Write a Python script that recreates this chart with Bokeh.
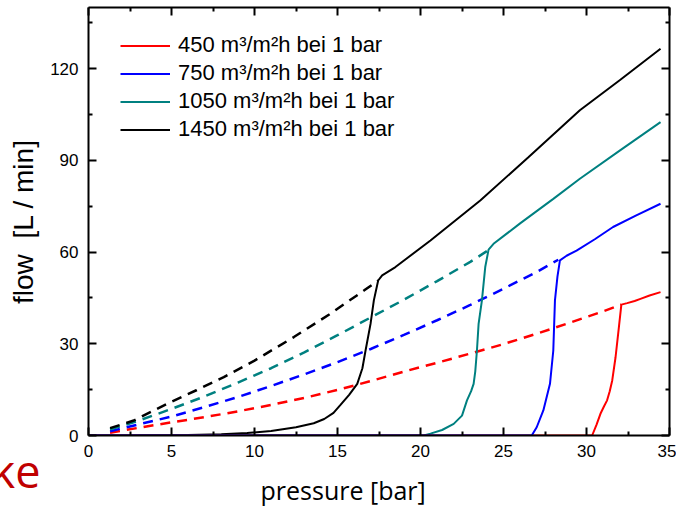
from bokeh.plotting import figure
from bokeh.models import (Range1d, LinearAxis, FixedTicker, Legend, LegendItem, Title,
                          CustomLabelingPolicy)
from bokeh.embed import file_html
from bokeh.resources import INLINE

# ---------------- data ----------------
x_ticks = [0, 5, 10, 15, 20, 25, 30, 35]
x_minor = [2.5, 7.5, 12.5, 17.5, 22.5, 27.5, 32.5]
y_ticks = [0, 30, 60, 90, 120]
y_minor = [15, 45, 75, 105, 135]

series_names = ["450 m³/m²h bei 1 bar", "750 m³/m²h bei 1 bar",
                "1050 m³/m²h bei 1 bar", "1450 m³/m²h bei 1 bar"]

# 450 (red)
red_dash_p = [1.3, 3, 5, 7, 9, 11, 13, 15, 17, 19, 21, 23, 25, 27, 29, 31, 32.1]
red_dash_q = [0.9, 2.5, 4.3, 6.0, 7.9, 10.0, 12.3, 14.9, 17.8, 20.9, 23.8, 26.8, 29.9, 33.3, 36.9, 40.6, 42.8]
red_p = [0, 30.34, 30.6, 30.84, 31.05, 31.24, 31.4, 31.55, 31.75, 31.95, 32.1, 32.45, 32.9, 33.25, 33.8, 34.46]
red_q = [0, 0, 3.5, 7.1, 9.5, 11.5, 14.5, 18.0, 25.6, 35.4, 42.8, 43.3, 44.0, 44.7, 45.8, 46.9]

# 750 (blue)
blue_dash_p = [1.3, 3, 5, 7, 9, 11, 13, 15, 17, 19, 21, 23, 25, 27, 28.3]
blue_dash_q = [1.4, 3.6, 6.2, 9.3, 12.6, 16.2, 20.0, 24.0, 28.3, 32.9, 37.7, 42.7, 48.0, 53.5, 57.5]
blue_p = [0, 26.7, 27.0, 27.4, 27.8, 28.0, 28.1, 28.25, 28.4, 28.8, 29.4, 30.5, 31.6, 33.0, 34.46]
blue_q = [0, 0, 2.7, 8.2, 16.9, 27.8, 44.2, 52.0, 57.3, 58.8, 60.5, 64.2, 68.2, 72.0, 75.8]

# 1050 (teal)
teal_dash_p = [1.3, 3, 5, 7, 9, 11, 13, 15, 17, 19, 21, 23, 24.2]
teal_dash_q = [2.0, 4.8, 8.7, 12.8, 17.3, 22.0, 27.2, 32.8, 38.6, 44.4, 50.5, 56.8, 61.0]
teal_p = [0, 20.2, 20.6, 21.3, 22.0, 22.5, 22.8, 23.05, 23.2, 23.3, 23.4, 23.5, 23.7, 23.9, 24.1, 24.4,
          26, 28, 29.6, 32, 34.46]
teal_q = [0, 0, 0.6, 1.8, 3.8, 6.5, 11.5, 14.5, 16.9, 21.0, 27.8, 36.5, 44.2, 55.1, 60.8, 62.7,
          69.4, 77.4, 84.0, 93.2, 102.5]

# 1450 (black)
black_dash_p = [1.3, 2.73, 4.74, 6.5, 8.15, 10, 12.37, 14.5, 16.59, 17.45]
black_dash_q = [2.4, 4.9, 10.4, 14.8, 19.1, 24.5, 32.2, 39.6, 47.4, 50.7]
black_p = [0, 3, 6, 8, 9.56, 11, 12.5, 13.57, 14.2, 14.76, 15.18, 15.7, 16.19, 16.5, 16.69, 16.99,
           17.19, 17.45, 17.69, 18.49, 20.6, 23.6, 26.5, 29.6, 32, 34.46]
black_q = [0, 0.05, 0.2, 0.4, 0.8, 1.5, 2.7, 4.0, 5.4, 7.4, 10.0, 13.3, 16.9, 22.0, 27.8, 36.5,
           44.2, 50.7, 52.4, 55.1, 63.8, 76.9, 91.0, 106.4, 116.2, 126.5]

colors = ["#ff0000", "#0000ff", "#008080", "#000000"]

# ---------------- figure ----------------
p = figure(width=676, height=507, output_backend="svg", toolbar_location=None,
           x_range=Range1d(0, 35), y_range=Range1d(0, 140),
           min_border_left=88, min_border_right=7, min_border_top=7, min_border_bottom=72,
           x_axis_location=None, y_axis_location=None)
p.grid.visible = False
p.outline_line_color = None
p.background_fill_color = "white"
p.border_fill_color = "white"

FONT = "Liberation Sans"

hide_policy = CustomLabelingPolicy(code="""
try { for (const i of [...indices]) { indices.unset(i) } } catch (e) {}
return indices
""")


def style_axis(ax, ticks, minor, show_labels):
    ax.ticker = FixedTicker(ticks=ticks, minor_ticks=minor)
    ax.axis_line_width = 2
    ax.axis_line_color = "black"
    ax.major_tick_line_width = 2
    ax.minor_tick_line_width = 2
    ax.major_tick_in = 8
    ax.major_tick_out = 0
    ax.minor_tick_in = 4
    ax.minor_tick_out = 0
    if show_labels:
        ax.major_label_text_font = FONT
        ax.major_label_text_font_size = "17px"
        ax.major_label_text_color = "black"
    else:
        ax.major_label_policy = hide_policy
        ax.major_label_text_font_size = "0px"
        ax.major_label_standoff = 0


xb = LinearAxis()
style_axis(xb, x_ticks, x_minor, True)
xb.major_label_standoff = 9
p.add_layout(xb, "below")

yl = LinearAxis(axis_label="flow\u00a0 [L / min]")
style_axis(yl, y_ticks, y_minor, True)
yl.major_label_standoff = 10
yl.axis_label_text_font = FONT
yl.axis_label_text_font_size = "28px"
yl.axis_label_text_font_style = "normal"
yl.axis_label_text_color = "black"
yl.axis_label_standoff = 8
p.add_layout(yl, "left")

xt = LinearAxis()
style_axis(xt, x_ticks, x_minor, False)
p.add_layout(xt, "above")

yr = LinearAxis()
style_axis(yr, y_ticks, y_minor, False)
p.add_layout(yr, "right")

# dashed (extrapolated) parts
for xs, ys, c in [(red_dash_p, red_dash_q, colors[0]), (blue_dash_p, blue_dash_q, colors[1]),
                  (teal_dash_p, teal_dash_q, colors[2]), (black_dash_p, black_dash_q, colors[3])]:
    p.line(xs, ys, line_color=c, line_width=2.5, line_dash="10 7")

# measured (solid) curves
solid = {}
for key, xs, ys, c in [("black", black_p, black_q, colors[3]), ("teal", teal_p, teal_q, colors[2]),
                       ("red", red_p, red_q, colors[0]), ("blue", blue_p, blue_q, colors[1])]:
    solid[key] = p.line(xs, ys, line_color=c, line_width=2)

legend = Legend(items=[LegendItem(label=series_names[0], renderers=[solid["red"]]),
                       LegendItem(label=series_names[1], renderers=[solid["blue"]]),
                       LegendItem(label=series_names[2], renderers=[solid["teal"]]),
                       LegendItem(label=series_names[3], renderers=[solid["black"]])])
legend.margin = 0
legend.padding = 0
legend.border_line_color = None
legend.background_fill_alpha = 0
legend.glyph_width = 50
legend.glyph_height = 25
legend.label_height = 25
legend.spacing = 2
legend.label_standoff = 8
legend.label_text_font = FONT
legend.label_text_font_size = "22px"
legend.label_text_color = "black"
legend.location = (32, 293)
p.add_layout(legend, "center")

# red slide fragment at the lower left (inner panel), then the x axis title (outer panel)
ke_title = Title(text="ke", align="left", offset=-97, vertical_align="bottom",
                 text_font="Open Sans", text_font_size="45px", text_font_style="normal",
                 text_color="#c00000", standoff=-44)
p.add_layout(ke_title, "below")

xtitle = Title(text="pressure [bar]", align="left", offset=172, vertical_align="bottom",
               text_font="Open Sans", text_font_size="25px", text_font_style="normal",
               text_color="black", standoff=-16)
p.add_layout(xtitle, "below")

open("out.html", "w").write(file_html(p, INLINE))
